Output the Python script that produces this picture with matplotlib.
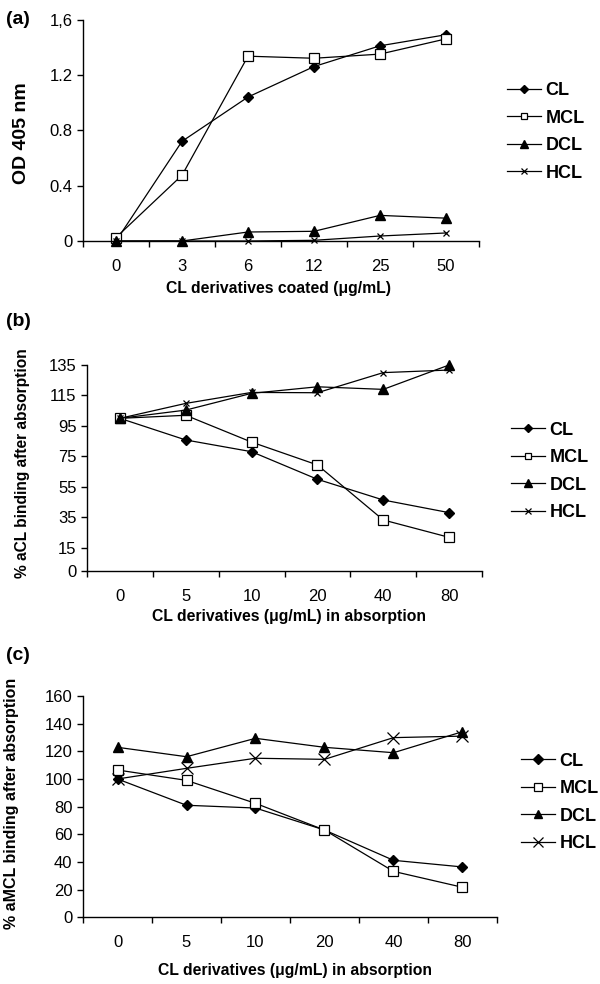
import matplotlib
matplotlib.use("Agg")
import matplotlib.pyplot as plt
from matplotlib.ticker import FixedLocator, NullFormatter

plt.rcParams['font.family'] = ['Liberation Sans Narrow', 'Liberation Sans', 'DejaVu Sans']

series = ["CL", "MCL", "DCL", "HCL"]

# panel (a): OD 405 nm vs coated amount
coat_labels = ["0", "3", "6", "12", "25", "50"]
a_cl = [0.0, 0.72, 1.04, 1.26, 1.41, 1.49]
a_mcl = [0.025, 0.475, 1.335, 1.32, 1.35, 1.46]
a_dcl = [0.0, 0.0, 0.065, 0.07, 0.185, 0.165]
a_hcl = [0.0, 0.0, 0.0, 0.005, 0.036, 0.058]

# panel (b): % aCL binding after absorption
abs_labels = ["0", "5", "10", "20", "40", "80"]
b_cl = [100, 85.8, 78.1, 60.0, 46.4, 38.1]
b_mcl = [100, 102, 84.4, 69.4, 33.3, 21.9]
b_dcl = [100, 105.4, 116.4, 120.7, 119, 135]
b_hcl = [100, 109.8, 117, 116.8, 130, 131.7]

# panel (c): % aMCL binding after absorption
c_cl = [100, 81, 79, 63.1, 41.2, 36.4]
c_mcl = [106.5, 99, 82.4, 63.1, 33.2, 21.7]
c_dcl = [122.9, 116.1, 129.4, 122.9, 119, 134.2]
c_hcl = [100, 107.7, 115, 114.2, 129.9, 131]

markers = [
    dict(marker='D', markersize=5.5, markerfacecolor='black', markeredgecolor='black'),
    dict(marker='s', markersize=6.5, markerfacecolor='white', markeredgecolor='black', markeredgewidth=0.9),
    dict(marker='^', markersize=7, markerfacecolor='black', markeredgecolor='black'),
    dict(marker='x', markersize=5, markeredgecolor='black', markeredgewidth=0.9),
]
bold = ['Liberation Sans', 'DejaVu Sans']

fig = plt.figure(figsize=(6, 9.84), dpi=100)


def panel(rect, labels, data, yticks, yticklabels, ylim, xlabel, xlabel_pos,
          ylabel, ylabel_pos, ylabel_size, tag, tag_pos, leg_pos, xsize=5, mscale=0.75):
    ax = fig.add_axes(rect)
    x = list(range(len(labels)))
    for name, vals, m in zip(series, data, markers):
        m = dict(m)
        if m['marker'] == 'x':
            m['markersize'] = xsize
        ax.plot(x, vals, color='black', linewidth=0.9, label=name, clip_on=False, **m)
    ax.set_xlim(-0.5, len(labels) - 0.5)
    ax.set_ylim(*ylim)
    ax.spines['top'].set_visible(False)
    ax.spines['right'].set_visible(False)
    ax.spines['left'].set_linewidth(1.0)
    ax.spines['bottom'].set_linewidth(1.0)
    ax.set_xticks(x)
    ax.set_xticklabels(labels, fontsize=12)
    ax.xaxis.set_minor_locator(FixedLocator([i - 0.5 for i in range(len(labels) + 1)]))
    ax.xaxis.set_minor_formatter(NullFormatter())
    ax.tick_params(axis='x', which='major', length=0, pad=13)
    ax.tick_params(axis='x', which='minor', length=4.5, width=1.0, direction='out')
    ax.set_yticks(yticks)
    ax.set_yticklabels(yticklabels, fontsize=12)
    ax.tick_params(axis='y', length=4.5, width=1.0, pad=3)
    fig.text(xlabel_pos[0] / 600, 1 - xlabel_pos[1] / 984, xlabel, ha='center', va='center',
             fontsize=11.3, fontweight='bold', family=bold)
    fig.text(ylabel_pos[0] / 600, 1 - ylabel_pos[1] / 984, ylabel, ha='center', va='center',
             rotation=90, fontsize=ylabel_size, fontweight='bold', family=bold)
    fig.text(tag_pos[0] / 600, 1 - tag_pos[1] / 984, tag, ha='left', va='center',
             fontsize=14, fontweight='bold', family=bold)
    ax.legend(loc='center left', bbox_to_anchor=(leg_pos[0] / 600, 1 - leg_pos[1] / 984),
              bbox_transform=fig.transFigure, frameon=False, borderpad=0,
              handlelength=1.9, handletextpad=0.22, labelspacing=0.58, markerscale=mscale,
              prop=dict(family=bold, weight='bold', size=13))
    return ax


panel([83 / 600, 1 - 241 / 984, 396 / 600, 221.5 / 984], coat_labels,
      [a_cl, a_mcl, a_dcl, a_hcl],
      [0, 0.4, 0.8, 1.2, 1.6], ["0", "0.4", "0.8", "1.2", "1,6"], (0, 1.6),
      "CL derivatives coated (\u03bcg/mL)", (279, 289),
      "OD 405 nm", (22, 133), 14, "(a)", (6, 19), (498, 132))

panel([87 / 600, 1 - 570.7 / 984, 395 / 600, 205.7 / 984], abs_labels,
      [b_cl, b_mcl, b_dcl, b_hcl],
      [0, 15, 35, 55, 75, 95, 115, 135], ["0", "15", "35", "55", "75", "95", "115", "135"], (0, 135),
      "CL derivatives (\u03bcg/mL) in absorption", (289, 616),
      "% aCL binding after absorption", (23, 463), 11.2, "(b)", (6, 322), (502, 471.5))

panel([83 / 600, 1 - 917.3 / 984, 414 / 600, 221.3 / 984], abs_labels,
      [c_cl, c_mcl, c_dcl, c_hcl],
      list(range(0, 161, 20)), [str(v) for v in range(0, 161, 20)], (0, 160),
      "CL derivatives (\u03bcg/mL) in absorption", (295, 970),
      "% aMCL binding after absorption", (12, 803), 11.5, "(c)", (6, 655), (512, 802.5),
      xsize=8, mscale=0.9)

fig.savefig("out.png", dpi=100)
